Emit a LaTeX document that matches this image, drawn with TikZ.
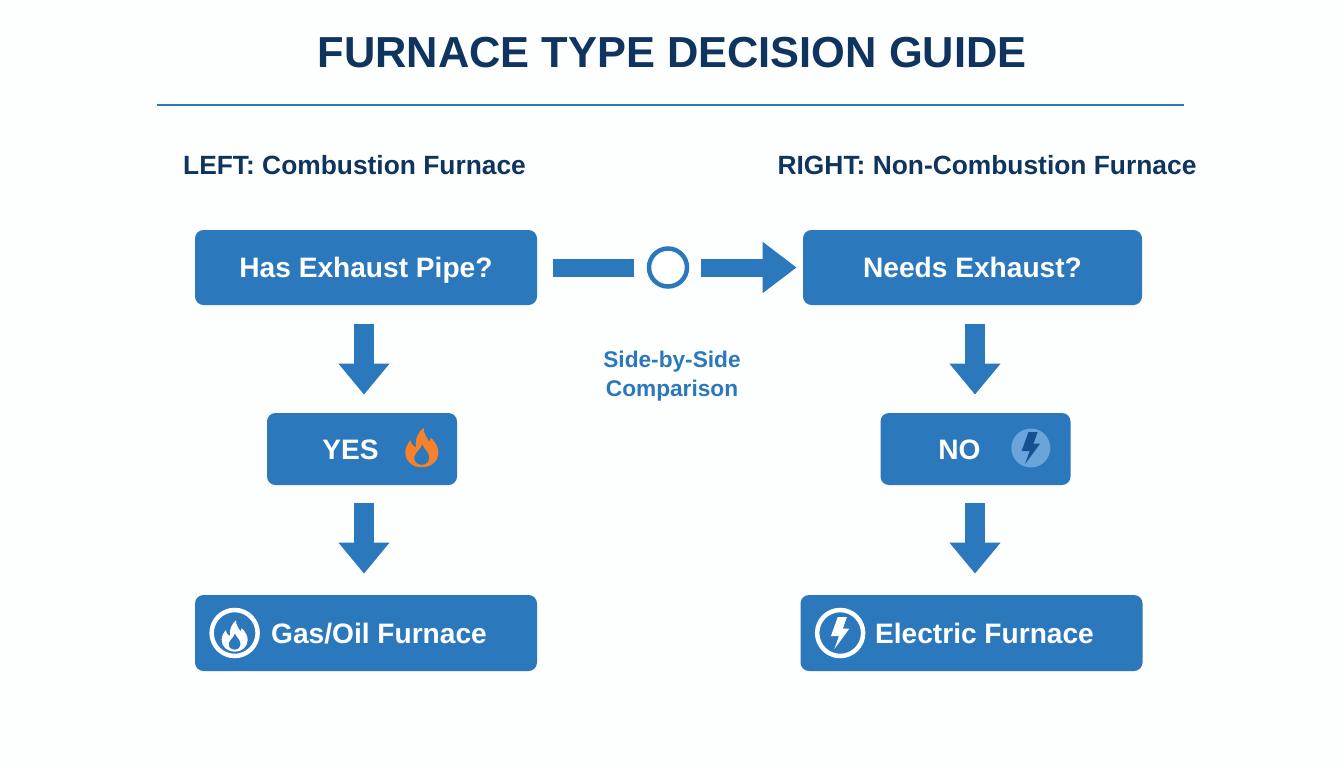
\documentclass[tikz,border=0pt]{standalone}
\usepackage{fontspec}
\setmainfont{Liberation Sans}
\usetikzlibrary{arrows.meta}

\definecolor{boxblue}{HTML}{2B78BD}
\definecolor{navy}{HTML}{0F3460}
\definecolor{flameorange}{HTML}{F5822A}
\definecolor{boltdark}{HTML}{17508F}
\definecolor{boltlight}{HTML}{6BA4DA}

\tikzset{
	flame/.pic={
		\fill[pic actions,even odd rule] (0,-1.2) .. controls (-0.6,-1.2) and (-1,-0.8) .. (-1,-0.3)
			.. controls (-1,0) and (-0.85,0.25) .. (-0.7,0.45)
			.. controls (-0.65,0.2) and (-0.5,0.05) .. (-0.35,0)
			.. controls (-0.45,0.5) and (-0.2,0.95) .. (0.1,1.2)
			.. controls (0.1,0.8) and (0.35,0.55) .. (0.45,0.35)
			.. controls (0.5,0.42) and (0.53,0.5) .. (0.55,0.6)
			.. controls (0.85,0.3) and (1,0) .. (1,-0.3)
			.. controls (1,-0.8) and (0.6,-1.2) .. (0,-1.2) -- cycle
			(0,-1.05) .. controls (-0.35,-1.05) and (-0.5,-0.8) .. (-0.45,-0.55)
			.. controls (-0.4,-0.3) and (-0.1,-0.15) .. (0.02,0.2)
			.. controls (0.15,-0.1) and (0.45,-0.3) .. (0.45,-0.6)
			.. controls (0.45,-0.85) and (0.3,-1.05) .. (0,-1.05) -- cycle;
	},
	bolt/.pic={
		\fill[pic actions] (-0.15,1) -- (0.42,1) -- (0.17,0.28) -- (0.58,0.28) -- (-0.36,-1)
			-- (-0.08,-0.2) -- (-0.58,-0.2) -- cycle;
	}
}

\begin{document}
\begin{tikzpicture}

		\tikzstyle{decision}=[rectangle,rounded corners=0.17cm,
			fill=boxblue,text=white,font=\fontsize{16}{19}\selectfont\bfseries,
			text height=0.5cm,text depth=0.1cm,
			minimum height=1.5cm,minimum width=6.84cm,inner sep=0mm,
			align=center]
		\tikzstyle{answer}=[decision,minimum height=1.44cm,minimum width=3.8cm]
		\tikzstyle{heading}=[text=navy,font=\fontsize{15}{18}\selectfont\bfseries]
		\tikzstyle{flow}=[draw=boxblue,line width=0.4cm,-{Triangle[length=0.62cm,width=0.98cm]}]

		\fill[white!99!boxblue] (0,0) rectangle (26.88,-15.36);

		\node[text=navy,font=\fontsize{24.7}{30}\selectfont\bfseries]	(title)	at (13.44,-1.06)	{FURNACE TYPE DECISION GUIDE};
		\draw[boxblue,line width=0.04cm] (3.14,-2.1) -- (23.68,-2.1);

		\node[heading]	(lefthead)	at (7.09,-3.3)	{LEFT: Combustion Furnace};
		\node[heading]	(righthead)	at (19.74,-3.3)	{RIGHT: Non-Combustion Furnace};

		\node[decision]	at (7.32,-5.35)	(has)	{Has Exhaust Pipe?};
		\node[decision,right of=has,node distance=12.13cm,minimum width=6.78cm]	(needs)	{Needs Exhaust?};

		\node[answer,below of=has,node distance=3.63cm,xshift=-0.08cm]	(yes)	{YES\hspace*{0.46cm}};
		\node[answer,below of=needs,node distance=3.63cm,xshift=0.06cm]	(no)	{NO\hspace*{0.64cm}};

		\node[decision,below of=has,node distance=7.31cm,minimum height=1.52cm]	(gas)	{\hspace*{0.52cm}Gas/Oil Furnace};
		\node[decision,below of=needs,node distance=7.31cm,xshift=-0.02cm,minimum height=1.52cm]	(elec)	{\hspace*{0.52cm}Electric Furnace};

		\node[circle,draw=boxblue,line width=0.09cm,fill=white,minimum size=0.76cm,inner sep=0mm]	at (13.36,-5.35)	(mid)	{};
		\node[text=boxblue,font=\fontsize{12.9}{16.4}\selectfont\bfseries,align=center]	at (13.44,-7.53)	(sidetext)	{Side-by-Side\\Comparison};

		\coordinate (leftcol) at (7.28,0);
		\coordinate (rightcol) at (19.5,0);

		\draw[draw=boxblue,line width=0.36cm,shorten <=0.32cm,shorten >=0.26cm] (has) -- (mid);
		\draw[draw=boxblue,line width=0.36cm,-{Triangle[length=0.68cm,width=0.98cm]},shorten <=0.24cm,shorten >=0.12cm] (mid) -- (needs);

		\draw[flow,shorten <=0.38cm,shorten >=0.36cm] (has.south -| leftcol) -- (yes.north -| leftcol);
		\draw[flow,shorten <=0.36cm,shorten >=0.42cm] (yes.south -| leftcol) -- (gas.north -| leftcol);
		\draw[flow,shorten <=0.38cm,shorten >=0.36cm] (needs.south -| rightcol) -- (no.north -| rightcol);
		\draw[flow,shorten <=0.36cm,shorten >=0.42cm] (no.south -| rightcol) -- (elec.north -| rightcol);

		\pic[fill=flameorange,scale=0.33] at ([shift={(-0.71,0.03)}]yes.east) {flame};
		\fill[boltlight] ([shift={(-0.8,0.02)}]no.east) circle (0.39cm);
		\pic[fill=boltdark,scale=0.32] at ([shift={(-0.8,0.02)}]no.east) {bolt};

		\draw[white,line width=0.09cm] ([shift={(0.8,0)}]gas.west) circle (0.46cm);
		\pic[fill=white,scale=0.26] at ([shift={(0.8,-0.06)}]gas.west) {flame};
		\draw[white,line width=0.09cm] ([shift={(0.8,0)}]elec.west) circle (0.46cm);
		\pic[fill=white,scale=0.32] at ([shift={(0.8,0)}]elec.west) {bolt};

	\end{tikzpicture}
\end{document}
